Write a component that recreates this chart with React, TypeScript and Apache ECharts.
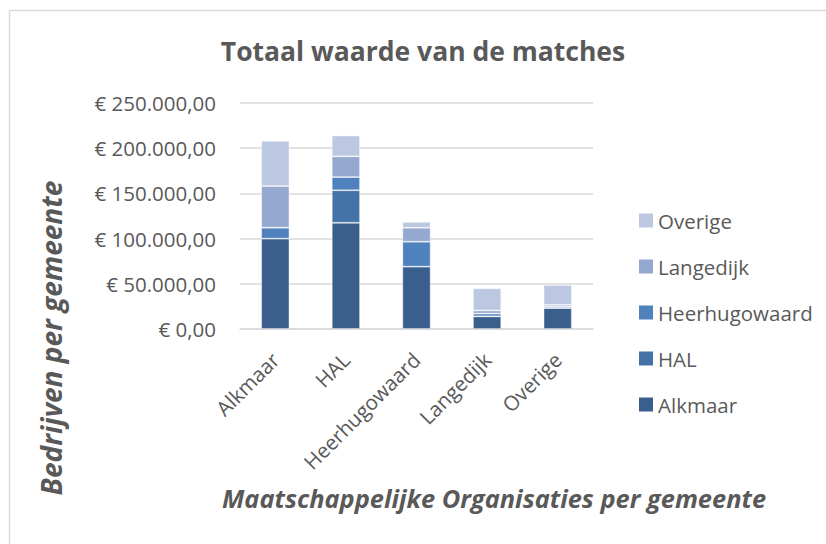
import React, { useEffect, useRef } from "react";
import * as echarts from "echarts";

const categories = ["Alkmaar", "HAL", "Heerhugowaard", "Langedijk", "Overige"];
const seriesNames = ["Alkmaar", "HAL", "Heerhugowaard", "Langedijk", "Overige"];
const alkmaarValues = [100000, 117500, 69000, 14000, 23200];
const halValues = [0, 36000, 0, 0, 0];
const heerhugowaardValues = [12000, 14500, 27500, 3000, 1500];
const langedijkValues = [46000, 23000, 15500, 3500, 2000];
const overigeValues = [50000, 23000, 6500, 24500, 22000];
const seriesColors = ["#3b5f8d", "#4473a8", "#4f81bd", "#95a9d0", "#bcc8e1"];
const yTicks = [0, 50000, 100000, 150000, 200000, 250000];

const FONT = "'Open Sans', 'Noto Sans', sans-serif";
const TXT = "#595959";

function euro(v: number): string {
  const s = Math.round(v).toString().replace(/\B(?=(\d{3})+(?!\d))/g, ".");
  return "€ " + s + ",00";
}

export default function App() {
  const ref = useRef<HTMLDivElement>(null);
  useEffect(() => {
    if (!ref.current) return;
    const chart = echarts.init(ref.current, undefined, { renderer: "svg" });
    const all = [alkmaarValues, halValues, heerhugowaardValues, langedijkValues, overigeValues];
    chart.setOption({
      animation: false,
      backgroundColor: "#ffffff",
      graphic: [
        {
          type: "rect",
          shape: { x: 9.5, y: 10.5, width: 830, height: 560 },
          style: { fill: "none", stroke: "#d9d9d9", lineWidth: 1.5 },
          silent: true,
        },
        {
          type: "text",
          x: 423,
          y: 51,
          style: {
            text: "Totaal waarde van de matches",
            font: `bold 26.5px ${FONT}`,
            fill: TXT,
            align: "center",
            verticalAlign: "middle",
          },
        },
        {
          type: "text",
          x: 51,
          y: 338,
          rotation: Math.PI / 2,
          style: {
            text: "Bedrijven per gemeente",
            font: `italic bold 28px ${FONT}`,
            fill: TXT,
            align: "center",
            verticalAlign: "middle",
          },
        },
        {
          type: "text",
          x: 494,
          y: 498,
          style: {
            text: "Maatschappelijke Organisaties per gemeente",
            font: `italic bold 25.4px ${FONT}`,
            fill: TXT,
            align: "center",
            verticalAlign: "middle",
          },
        },
      ],
      legend: {
        orient: "vertical",
        left: 634,
        top: 205,
        itemWidth: 14,
        itemHeight: 14,
        itemGap: 25,
        itemStyle: { borderWidth: 0 },
        data: [...seriesNames].reverse(),
        textStyle: { color: TXT, fontSize: 20.5, fontFamily: FONT },
        icon: "rect",
      },
      grid: { left: 240, right: 233, top: 103, bottom: 215 },
      xAxis: {
        type: "category",
        data: categories,
        axisLine: { lineStyle: { color: "#d9d9d9", width: 1.5 } },
        axisTick: { show: false },
        axisLabel: {
          rotate: 45,
          color: TXT,
          fontSize: 20.5,
          fontFamily: FONT,
          margin: 27,
        },
      },
      yAxis: {
        type: "value",
        min: 0,
        max: 250000,
        interval: 50000,
        axisLine: { show: false },
        axisTick: { show: false },
        splitLine: { lineStyle: { color: "#d9d9d9", width: 1.5 } },
        axisLabel: {
          color: TXT,
          fontSize: 20.5,
          fontFamily: FONT,
          margin: 24,
          formatter: (v: number) => (yTicks.includes(v) ? euro(v) : ""),
        },
      },
      series: seriesNames.map((name, i) => ({
        name,
        type: "bar",
        stack: "total",
        barWidth: "40%",
        data: all[i],
        itemStyle: {
          color: seriesColors[i],
          borderColor: "rgba(255,255,255,0.55)",
          borderWidth: 0.8,
        },
      })),
    });
    return () => chart.dispose();
  }, []);
  return (
    <div
      ref={ref}
      style={{ position: "fixed", left: 0, top: 0, width: 826, height: 544 }}
    />
  );
}
